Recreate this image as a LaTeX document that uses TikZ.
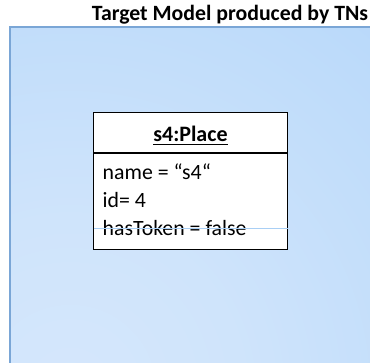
\documentclass[tikz,border=0pt]{standalone}
\usepackage{fontspec}
\setmainfont{Carlito}
\definecolor{panelC}{HTML}{D5E7FC}
\definecolor{panelA}{HTML}{CFE4FB}
\definecolor{panelM}{HTML}{BDDBFA}
\definecolor{panelO}{HTML}{A7CEF7}
\definecolor{panelEdge}{HTML}{7AA6D6}
\definecolor{tokline}{HTML}{A9CFF5}
\pgfdeclareradialshading{panelshade}{\pgfpoint{0bp}{0bp}}{%
  color(0bp)=(panelC);
  color(10bp)=(panelA);
  color(25bp)=(panelM);
  color(42bp)=(panelO);
  color(50bp)=(panelO)}
\tikzset{
  headbox/.style={draw=black, line width=1.4pt, fill=white, outer sep=0pt, minimum width=194pt, minimum height=40.5pt, inner sep=0pt, anchor=north west},
  bodybox/.style={draw=black, line width=1.4pt, fill=white, outer sep=0pt, minimum width=194pt, minimum height=96.5pt, inner sep=0pt, anchor=north},
  attr/.style={anchor=base west, inner sep=0pt, font=\fontsize{21.8}{24}\selectfont},
  titletext/.style={anchor=base, inner sep=0pt, font=\fontsize{21.8}{24}\selectfont\bfseries},
}
\begin{document}
\begin{tikzpicture}[x=1pt,y=-1pt]
\useasboundingbox (0,0) rectangle (370,362);
\fill[white] (0,0) rectangle (370,362);
\begin{scope}
\clip (10,27) rectangle (375,367);
\shade[shading=panelshade] (-358,-38) rectangle (498,818);
\end{scope}
\draw[panelEdge, line width=1.6pt] (10,367) -- (10,27) -- (375,27);
\node[titletext] (title) at (230,20) {Target Model produced by TNs};
\node[headbox] (head) at (93.5,112.5) {};
\node[bodybox] (body) at (head.south) {};
\node[anchor=base, inner sep=0pt, font=\fontsize{22}{24}\selectfont\bfseries] (cls) at (190.5,141.5) {s4:Place};
\draw[line width=1.3pt] ([yshift=-3.3pt]cls.base west) -- ([yshift=-3.3pt]cls.base east);
\node[attr] (a1) at (102.5,179.3) {name = “s4“};
\node[attr] (a2) at (102.5,207.3) {id= 4};
\node[attr] (a3) at (102.5,235.7) {hasToken = false};
\coordinate (tl) at ([yshift=7.7pt]body.west |- a3.base);
\coordinate (tr) at ([yshift=7.7pt]body.east |- a3.base);
\draw[tokline, line width=0.7pt] (tl) -- (tr);
\end{tikzpicture}
\end{document}
